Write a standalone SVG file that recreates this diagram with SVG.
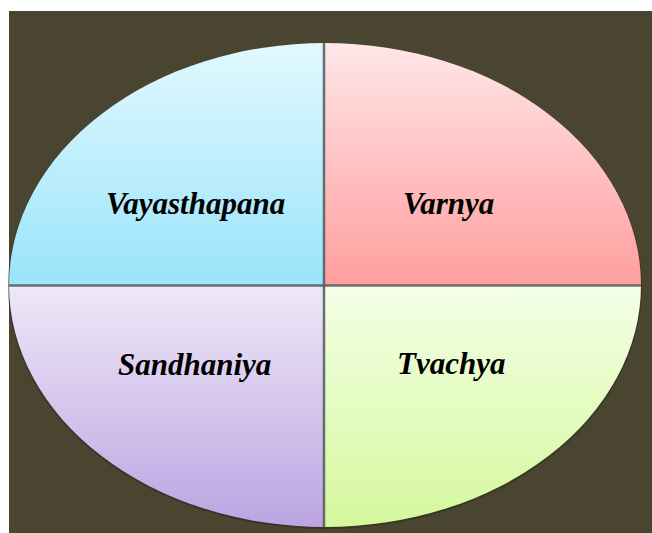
<svg xmlns="http://www.w3.org/2000/svg" width="652" height="533" viewBox="0 0 652 533">
<defs>
<style>
.lbl{font-family:"Liberation Serif","Times New Roman",serif;font-weight:bold;font-style:italic;font-size:31px;fill:#000}
.div{stroke:#4e5a5c;stroke-width:2.5;stroke-opacity:0.85}
</style>
<clipPath id="oval"><ellipse cx="325" cy="285" rx="316" ry="242"/></clipPath>
<linearGradient id="gTL" x1="0" y1="0" x2="0" y2="1"><stop offset="0" stop-color="#e2f8ff"/><stop offset="1" stop-color="#9ae4fa"/></linearGradient>
<linearGradient id="gTR" x1="0" y1="0" x2="0" y2="1"><stop offset="0" stop-color="#ffe6e8"/><stop offset="1" stop-color="#ff9e9e"/></linearGradient>
<linearGradient id="gBL" x1="0" y1="0" x2="0" y2="1"><stop offset="0" stop-color="#efe8f8"/><stop offset="1" stop-color="#bca4e2"/></linearGradient>
<linearGradient id="gBR" x1="0" y1="0" x2="0" y2="1"><stop offset="0" stop-color="#f4ffe6"/><stop offset="1" stop-color="#d4f89c"/></linearGradient>
</defs>
<rect x="0" y="0" width="652" height="533" fill="#ffffff"/>
<rect x="9" y="11" width="643" height="522" fill="#4a4530"/>
<ellipse cx="325" cy="286" rx="317" ry="243" fill="#2e2b1e" opacity="0.6"/>
<g clip-path="url(#oval)">
<g id="vayasthapana"><rect x="9" y="43" width="315" height="242" fill="url(#gTL)"/></g>
<g id="varnya"><rect x="324" y="43" width="318" height="242" fill="url(#gTR)"/></g>
<g id="sandhaniya"><rect x="9" y="285" width="315" height="243" fill="url(#gBL)"/></g>
<g id="tvachya"><rect x="324" y="285" width="318" height="243" fill="url(#gBR)"/></g>
<g id="connectors">
<line class="div" x1="324" y1="40" x2="324" y2="530"/>
<line class="div" x1="5" y1="285.5" x2="645" y2="285.5"/>
</g>
</g>
<text class="lbl" x="106" y="214">Vayasthapana</text>
<text class="lbl" x="403" y="214">Varnya</text>
<text class="lbl" x="118" y="375">Sandhaniya</text>
<text class="lbl" x="397" y="374">Tvachya</text>
</svg>
